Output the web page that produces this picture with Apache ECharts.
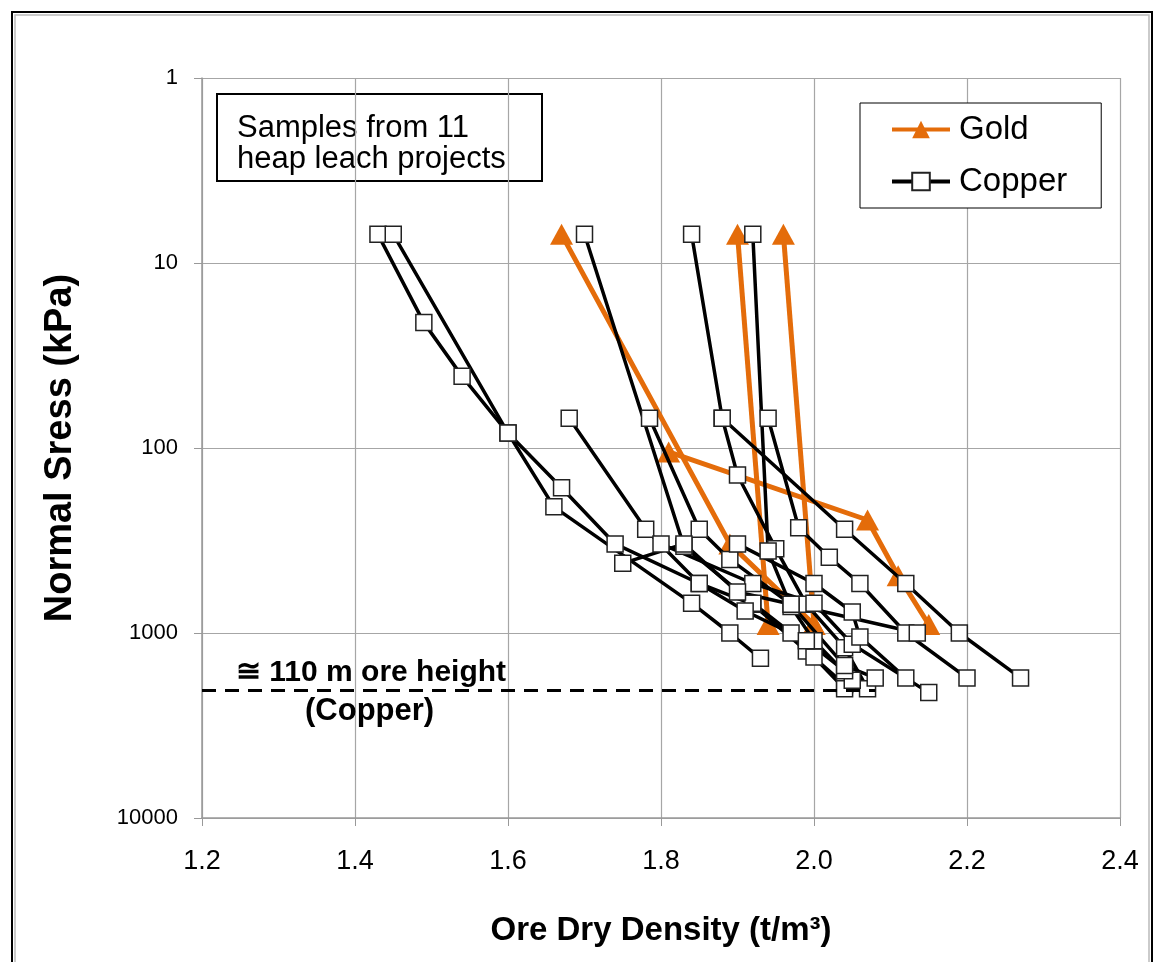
<!DOCTYPE html>
<html>
<head>
<meta charset="utf-8">
<script src="https://cdn.jsdelivr.net/npm/echarts@6/dist/echarts.min.js"></script>
<style>
  html, body { margin: 0; padding: 0; background: #fff; }
  #chart { width: 1163px; height: 962px; }
</style>
</head>
<body>
<div id="chart"></div>
<script>
// density (t/m3), normal stress (kPa)
const xTicks = [1.2, 1.4, 1.6, 1.8, 2.0, 2.2, 2.4];
const yTicks = [1, 10, 100, 1000, 10000];

const gold1 = [[1.67, 7], [1.89, 330], [2.00, 900]];
const gold2 = [[1.81, 105], [2.07, 245], [2.11, 490], [2.15, 900]];
const gold3 = [[1.90, 7], [1.94, 900]];
const gold4 = [[1.96, 7], [2.00, 900]];

const copper1 = [[1.43, 7], [1.49, 21], [1.54, 41], [1.60, 83], [1.67, 164], [1.74, 330], [1.85, 540], [1.92, 700], [1.99, 1250], [2.04, 1900]];
const copper2 = [[1.45, 7], [1.60, 83], [1.66, 208], [1.84, 690], [1.89, 1000], [1.93, 1370]];
const copper3 = [[1.70, 7], [1.83, 340], [1.92, 690], [1.97, 1000], [2.00, 1350], [2.04, 2000]];
const copper4 = [[1.84, 7], [1.88, 69], [1.90, 140], [1.95, 350], [1.99, 700], [2.04, 1200], [2.07, 2000]];
const copper5 = [[1.92, 7], [1.94, 360], [1.97, 720], [2.00, 1100], [2.05, 1800]];
const copper6 = [[1.68, 69], [1.78, 275], [1.85, 540], [1.91, 760], [1.99, 1100], [2.04, 1600]];
const copper7 = [[1.785, 69], [1.85, 275], [1.89, 400], [1.97, 700], [2.04, 1500], [2.08, 1750]];
const copper8 = [[1.88, 69], [2.04, 275], [2.12, 540], [2.19, 1000], [2.27, 1750]];
const copper9 = [[1.94, 69], [1.98, 270], [2.02, 390], [2.06, 540], [2.12, 1000], [2.20, 1750]];
const copper10 = [[1.80, 330], [1.92, 540], [2.00, 690], [2.05, 1150], [2.15, 2100]];
const copper11 = [[1.90, 330], [2.00, 540], [2.05, 770], [2.06, 1050], [2.12, 1750]];
const copper12 = [[1.75, 420], [1.83, 330], [1.90, 600], [2.135, 1000]];

const goldRuns = [gold1, gold2, gold3, gold4];
const copperRuns = [copper1, copper2, copper3, copper4, copper5, copper6, copper7, copper8, copper9, copper10, copper11, copper12];

const oreHeightStress = 2030;   // ~110 m of ore
const oreHeightEnd = 2.08;

const font = '"Liberation Sans", Arial, sans-serif';
const orange = '#E46C0A';

const chart = echarts.init(document.getElementById('chart'));

let series = [];
for (let run of goldRuns) {
    series.push({
        name: 'Gold',
        type: 'line',
        data: run,
        z: 2,
        symbol: 'triangle',
        symbolSize: [23, 21],
        showAllSymbol: true,
        itemStyle: { color: orange, borderColor: orange, borderWidth: 0 },
        lineStyle: { color: orange, width: 5 },
        animation: false
    });
}
copperRuns.forEach((run, i) => {
    let s = {
        name: 'Copper',
        type: 'line',
        data: run,
        z: 3,
        symbol: 'rect',
        symbolSize: 16,
        showAllSymbol: true,
        itemStyle: { color: '#fff', borderColor: '#222', borderWidth: 1.5 },
        lineStyle: { color: '#000', width: 3.5 },
        animation: false
    };
    if (i === 0) {
        s.markLine = {
            silent: true,
            symbol: 'none',
            label: { show: false },
            lineStyle: { color: '#000', type: [14, 9], width: 3 },
            data: [[{ coord: [1.2, oreHeightStress] }, { coord: [oreHeightEnd, oreHeightStress] }]]
        };
    }
    series.push(s);
});

chart.setOption({
    backgroundColor: '#fff',
    animation: false,
    textStyle: { fontFamily: font },
    grid: { left: 202, top: 78, right: 43, bottom: 144, containLabel: false },
    legend: {
        data: ['Gold', 'Copper'],
        orient: 'vertical',
        left: 860,
        top: 103,
        padding: [10, 34, 10, 30],
        itemGap: 19,
        itemWidth: 58,
        itemHeight: 22,
        borderColor: '#000',
        borderWidth: 1,
        backgroundColor: '#fff',
        lineStyle: { width: 4 },
        textStyle: { fontFamily: font, fontSize: 33, color: '#000', padding: [0, 0, 0, 4] }
    },
    xAxis: {
        type: 'value',
        min: xTicks[0],
        max: xTicks[xTicks.length - 1],
        interval: 0.2,
        name: 'Ore Dry Density (t/m³)',
        nameLocation: 'middle',
        nameGap: 96,
        nameTextStyle: { fontFamily: font, fontSize: 33, fontWeight: 'bold', color: '#000' },
        axisLine: { show: true, lineStyle: { color: '#999', width: 1.5 } },
        axisTick: { show: true, length: 8, lineStyle: { color: '#999' } },
        axisLabel: { fontSize: 27, color: '#000', margin: 30, formatter: v => v.toFixed(1) },
        splitLine: { show: true, lineStyle: { color: '#a6a6a6', width: 1.2 } }
    },
    yAxis: {
        type: 'log',
        logBase: 10,
        min: yTicks[0],
        max: yTicks[yTicks.length - 1],
        inverse: true,
        name: 'Normal Sress (kPa)',
        nameLocation: 'middle',
        nameGap: 122,
        nameRotate: 90,
        nameTextStyle: { fontFamily: font, fontSize: 38, fontWeight: 'bold', color: '#000' },
        axisLine: { show: true, lineStyle: { color: '#999', width: 1.5 } },
        axisTick: { show: true, length: 8, lineStyle: { color: '#999' } },
        axisLabel: { fontSize: 22, color: '#000', margin: 24, formatter: v => String(Math.round(v)) },
        splitLine: { show: true, lineStyle: { color: '#a6a6a6', width: 1.2 } },
        minorTick: { show: false }
    },
    graphic: [
        { // outer frame
            type: 'rect', silent: true, z: -1,
            shape: { x: 12, y: 12, width: 1140, height: 980 },
            style: { fill: 'none', stroke: '#000', lineWidth: 2 }
        },
        {
            type: 'rect', silent: true, z: -1,
            shape: { x: 15, y: 15, width: 1134, height: 976 },
            style: { fill: 'none', stroke: '#bbb', lineWidth: 1.5 }
        },
        {
            type: 'group', left: 216, top: 93, z: 10,
            children: [
                { type: 'rect', shape: { x: 0, y: 0, width: 325, height: 87 },
                  style: { fill: '#fff', stroke: '#000', lineWidth: 2 } },
                { type: 'text', x: 20, y: 19,
                  style: { text: 'Samples from 11\nheap leach projects', font: '31px ' + font, fill: '#000', lineHeight: 31 } }
            ]
        },
        {
            type: 'text', left: 236, top: 658, z: 10,
            style: { text: '≅ 110 m ore height', font: 'bold 30px ' + font, fill: '#000' }
        },
        {
            type: 'text', left: 305, top: 696, z: 10,
            style: { text: '(Copper)', font: 'bold 31px ' + font, fill: '#000' }
        }
    ],
    series: series
});
</script>
</body>
</html>
